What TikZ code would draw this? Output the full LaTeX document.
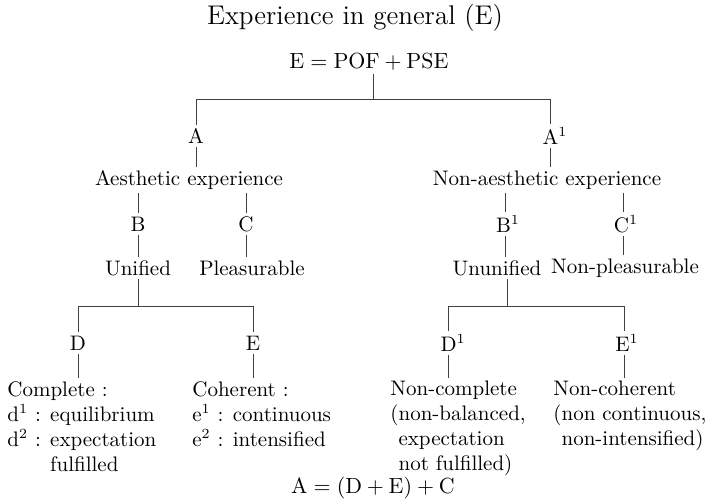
\documentclass[tikz,border=0pt]{standalone}
\usepackage{amsmath, amssymb}

\begin{document}
\begin{tikzpicture}[x=0.5pt, y=-0.5pt, font=\fontsize{10.5}{12.5}\selectfont,
        lbl/.style={inner sep=1.5pt},
        txt/.style={anchor=north west, align=left, inner sep=0pt},
        link/.style={line width=0.4pt, black!75}]
    \useasboundingbox (0,0) rectangle (711,498);
    \node[font=\fontsize{13.5}{16}\selectfont] (title) at (355,18) {Experience in general (E)};
    \node[lbl] (eq) at (369,62) {$\mathrm{E} = \mathrm{POF} + \mathrm{PSE}$};
    \coordinate (top) at (373,99);
    \coordinate (topL) at (196,99);
    \coordinate (topR) at (550,99);
    \draw[link] (top |- eq.south) -- (top);
    \draw[link] (topL) -- (topR);

    % aesthetic side
    \node[lbl] (A) at (196,136) {A};
    \node[lbl] (aes) at (189,180) {Aesthetic experience};
    \node[lbl] (B) at (138,224) {B};
    \node[lbl] (C) at (246,224) {C};
    \node[lbl] (uni) at (138,268) {Unified};
    \node[lbl] (plea) at (252,268) {Pleasurable};
    \draw[link] (topL) -- (A);
    \draw[link] (A) -- (A |- aes.north);
    \draw[link] (B |- aes.south) -- (B);
    \draw[link] (C |- aes.south) -- (C);
    \draw[link] (B) -- (uni);
    \draw[link] (C) -- (C |- plea.north);
    \coordinate (midL) at (138,306);
    \coordinate (dL) at (78,306);
    \coordinate (eL) at (253,306);
    \draw[link] (uni) -- (midL);
    \draw[link] (dL) -- (eL);
    \node[lbl] (D) at (78,343) {D};
    \node[lbl] (E) at (253,343) {E};
    \draw[link] (dL) -- (D);
    \draw[link] (eL) -- (E);
    \node[txt] (cpl) at (7,381) {Complete :\\
        d$^1$ : equilibrium\\
        d$^2$ : expectation\\
        \phantom{d$^2$ : }fulfilled};
    \node[txt] (coh) at (192,381) {Coherent :\\
        e$^1$ : continuous\\
        e$^2$ : intensified};
    \draw[link, shorten >=1.5pt] (D) -- (D |- cpl.north);
    \draw[link, shorten >=1.5pt] (E) -- (E |- coh.north);

    % non-aesthetic side
    \node[lbl] (A1) at (555,136) {A$^1$};
    \node[lbl] (nae) at (547,180) {Non-aesthetic experience};
    \node[lbl] (B1) at (508,224) {B$^1$};
    \node[lbl] (C1) at (626,224) {C$^1$};
    \node[lbl] (unu) at (497,268) {Ununified};
    \node[lbl] (npl) at (625,268) {Non-pleasurable};
    \draw[link] (topR) -- (topR |- A1.north);
    \draw[link] (topR |- A1.south) -- (topR |- nae.north);
    \draw[link] ([xshift=-1.5pt]B1.north |- nae.south) -- ([xshift=-1.5pt]B1.north);
    \draw[link] ([xshift=-1.5pt]C1.north |- nae.south) -- ([xshift=-1.5pt]C1.north);
    \draw[link] ([xshift=-1.5pt]B1.south) -- ([xshift=-1.5pt]B1.south |- unu.north);
    \draw[link] ([xshift=-1.5pt]C1.south) -- ([xshift=-1.5pt]C1.south |- npl.north);
    \coordinate (midR) at (507,306);
    \coordinate (dR) at (448,306);
    \coordinate (eR) at (624,306);
    \draw[link] (midR |- unu.south) -- (midR);
    \draw[link] (dR) -- (eR);
    \node[lbl] (D1) at (453,343) {D$^1$};
    \node[lbl] (E1) at (627,343) {E$^1$};
    \draw[link] (dR) -- (dR |- D1.north);
    \draw[link] (eR) -- (eR |- E1.north);
    \node[txt] (ncp) at (390,381) {Non-complete\\
        (non-balanced,\\
        \phantom{(}expectation\\
        \phantom{(}not fulfilled)};
    \node[txt] (nch) at (553,381) {Non-coherent\\
        (non continuous,\\
        \phantom{(}non-intensified)};
    \draw[link, shorten >=1.5pt] (dR |- D1.south) -- (dR |- ncp.north);
    \draw[link, shorten >=1.5pt] (eR |- E1.south) -- (eR |- nch.north);

    \node[lbl] (form) at (373,488) {$\mathrm{A} = (\mathrm{D} + \mathrm{E}) + \mathrm{C}$};
\end{tikzpicture}
\end{document}
